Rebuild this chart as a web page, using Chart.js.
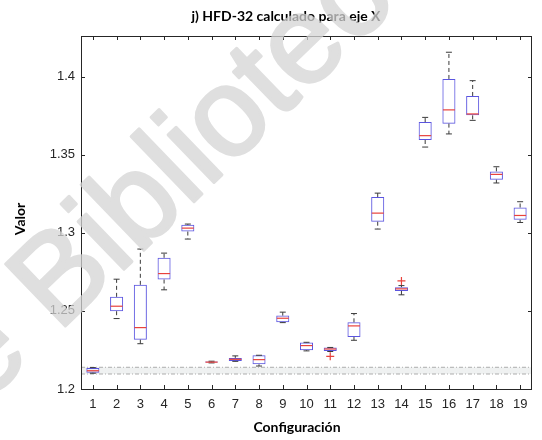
<!DOCTYPE html>
<html>
<head>
<meta charset="utf-8">
<script src="https://cdn.jsdelivr.net/npm/chart.js@4.4.1/dist/chart.umd.min.js"></script>
<style>
  body { margin: 0; background: #fff; }
  canvas { display: block; }
</style>
</head>
<body>
<canvas id="boxChart" width="542" height="440"></canvas>
<script>
const categories = ['1', '2', '3', '4', '5', '6', '7', '8', '9', '10', '11', '12', '13', '14', '15', '16', '17', '18', '19'];

// per-configuration box statistics
const whiskerHigh = [1.2137, 1.2703, 1.2896, 1.2870, 1.3056, 1.2178, 1.2212, 1.2216, 1.2492, 1.2299, 1.2266, 1.2483, 1.3254, 1.2662, 1.3739, 1.4156, 1.3974, 1.3423, 1.3199];
const upperQuartile = [1.2135, 1.2590, 1.2667, 1.2840, 1.3051, 1.2176, 1.2199, 1.2216, 1.2470, 1.2297, 1.2265, 1.2427, 1.3229, 1.2652, 1.3709, 1.3985, 1.3876, 1.3393, 1.3162];
const medians = [1.2117, 1.2530, 1.2393, 1.2739, 1.3030, 1.2172, 1.2190, 1.2188, 1.2453, 1.2278, 1.2256, 1.2404, 1.3126, 1.2641, 1.3622, 1.3787, 1.3761, 1.3374, 1.3111];
const lowerQuartile = [1.2104, 1.2498, 1.2316, 1.2701, 1.3008, 1.2169, 1.2179, 1.2158, 1.2427, 1.2248, 1.2244, 1.2333, 1.3071, 1.2628, 1.3594, 1.3699, 1.3752, 1.3340, 1.3083];
const whiskerLow = [1.2101, 1.2451, 1.2290, 1.2635, 1.2960, 1.2167, 1.2177, 1.2147, 1.2425, 1.2244, 1.2240, 1.2312, 1.3024, 1.2603, 1.3549, 1.3633, 1.3720, 1.3319, 1.3066];
const outliers = [null, null, null, null, null, null, null, null, null, null, 1.2209, null, null, 1.2692, null, null, null, null, null];

const yTicks = [1.2, 1.25, 1.3, 1.35, 1.4];
const bandRange = [1.2096, 1.2139];

const axisColor = '#262626';

// shaded reference band, whiskers, medians, frame and text
const boxplotExtras = {
  id: 'boxplotExtras',
  beforeDatasetsDraw(chart) {
    const { ctx, chartArea: a, scales: { y } } = chart;
    const yTop = y.getPixelForValue(bandRange[1]);
    const yBot = y.getPixelForValue(bandRange[0]);
    ctx.save();
    ctx.fillStyle = '#eff1f1';
    ctx.fillRect(a.left, yTop, a.right - a.left, yBot - yTop);
    ctx.strokeStyle = '#9a9a9a';
    ctx.lineWidth = 0.8;
    ctx.setLineDash([4, 2, 1, 2]);
    [yTop, yBot].forEach(py => {
      ctx.beginPath();
      ctx.moveTo(a.left, py);
      ctx.lineTo(a.right, py);
      ctx.stroke();
    });
    ctx.restore();
  },
  afterDatasetsDraw(chart) {
    const { ctx, scales: { x, y } } = chart;
    ctx.save();
    categories.forEach((c, i) => {
      const px = x.getPixelForValue(i);
      const hi = y.getPixelForValue(whiskerHigh[i]);
      const q3 = y.getPixelForValue(upperQuartile[i]);
      const q1 = y.getPixelForValue(lowerQuartile[i]);
      const lo = y.getPixelForValue(whiskerLow[i]);
      const md = y.getPixelForValue(medians[i]);

      ctx.strokeStyle = '#3a3a3a';
      ctx.lineWidth = 1;
      ctx.setLineDash([4, 3]);
      ctx.beginPath();
      ctx.moveTo(px, q3); ctx.lineTo(px, hi);
      ctx.moveTo(px, q1); ctx.lineTo(px, lo);
      ctx.stroke();
      ctx.setLineDash([]);
      ctx.beginPath();
      ctx.moveTo(px - 3, hi); ctx.lineTo(px + 3, hi);
      ctx.moveTo(px - 3, lo); ctx.lineTo(px + 3, lo);
      ctx.stroke();

      ctx.strokeStyle = '#e8423c';
      ctx.lineWidth = 1.2;
      ctx.beginPath();
      ctx.moveTo(px - 6, md); ctx.lineTo(px + 6, md);
      ctx.stroke();
    });
    ctx.restore();
  },
  afterDraw(chart) {
    const { ctx, chartArea: a, scales: { x, y } } = chart;
    ctx.save();
    // axes frame with inward ticks
    ctx.strokeStyle = axisColor;
    ctx.lineWidth = 1;
    ctx.strokeRect(a.left + 0.5, a.top + 0.5, a.right - a.left - 1, a.bottom - a.top);
    ctx.beginPath();
    categories.forEach((c, i) => {
      const px = Math.round(x.getPixelForValue(i)) + 0.5;
      ctx.moveTo(px, a.bottom); ctx.lineTo(px, a.bottom - 4);
      ctx.moveTo(px, a.top); ctx.lineTo(px, a.top + 4);
    });
    yTicks.forEach(v => {
      const py = Math.round(y.getPixelForValue(v)) + 0.5;
      ctx.moveTo(a.left, py); ctx.lineTo(a.left + 4, py);
      ctx.moveTo(a.right, py); ctx.lineTo(a.right - 4, py);
    });
    ctx.stroke();

    // titles
    ctx.fillStyle = '#000';
    ctx.textAlign = 'center';
    ctx.textBaseline = 'middle';
    ctx.font = 'bold 14px Lato';
    ctx.fillText('j) HFD-32 calculado para eje X', 286, 16);
    ctx.font = 'bold 14px Lato';
    ctx.fillText('Configuración', 297, 427);
    ctx.translate(20, 219);
    ctx.rotate(-Math.PI / 2);
    ctx.fillText('Valor', 0, 0);
    ctx.restore();

    // watermark: drawn opaque offscreen, then laid over with one alpha
    const mark = document.createElement('canvas');
    mark.width = chart.width;
    mark.height = chart.height;
    const m = mark.getContext('2d');
    m.translate(58, 333);
    m.rotate(-44 * Math.PI / 180);
    m.font = '125px "Liberation Sans"';
    m.fillStyle = m.strokeStyle = 'rgb(212, 212, 212)';
    m.lineWidth = 3;
    m.lineJoin = 'round';
    const pre = m.measureText('e ').width;
    m.fillText('e Biblioteca', -pre, 0);
    m.strokeText('e Biblioteca', -pre, 0);
    ctx.save();
    ctx.globalAlpha = 0.75;
    ctx.drawImage(mark, 0, 0);
    ctx.restore();
  }
};

new Chart(document.getElementById('boxChart'), {
  type: 'bar',
  data: {
    labels: categories,
    datasets: [
      {
        label: 'Caja',
        data: categories.map((c, i) => [lowerQuartile[i], upperQuartile[i]]),
        backgroundColor: 'rgba(0,0,0,0)',
        borderColor: '#5b55e0',
        borderWidth: 1,
        borderSkipped: false,
        barPercentage: 0.55,
        categoryPercentage: 1
      },
      {
        type: 'line',
        label: 'Atípicos',
        data: outliers,
        showLine: false,
        pointStyle: 'cross',
        pointRadius: 4,
        borderColor: '#e8423c',
        borderWidth: 1.2
      }
    ]
  },
  options: {
    responsive: false,
    animation: false,
    layout: { padding: { top: 36, right: 10, left: 0, bottom: 0 } },
    plugins: {
      legend: { display: false },
      tooltip: { enabled: false }
    },
    scales: {
      x: {
        grid: { display: false, drawTicks: false },
        border: { display: false },
        ticks: { color: axisColor, padding: 8, font: { family: 'Liberation Sans', size: 13 } },
        afterFit: s => { s.height = 51; }
      },
      y: {
        min: 1.2,
        max: 1.426,
        grid: { display: false, drawTicks: false },
        border: { display: false },
        afterBuildTicks: s => { s.ticks = yTicks.map(v => ({ value: v })); },
        ticks: {
          color: axisColor,
          padding: 6,
          font: { family: 'Liberation Sans', size: 13 },
          callback: v => String(v)
        },
        afterFit: s => { s.width = 81; }
      }
    }
  },
  plugins: [boxplotExtras]
});
</script>
</body>
</html>
